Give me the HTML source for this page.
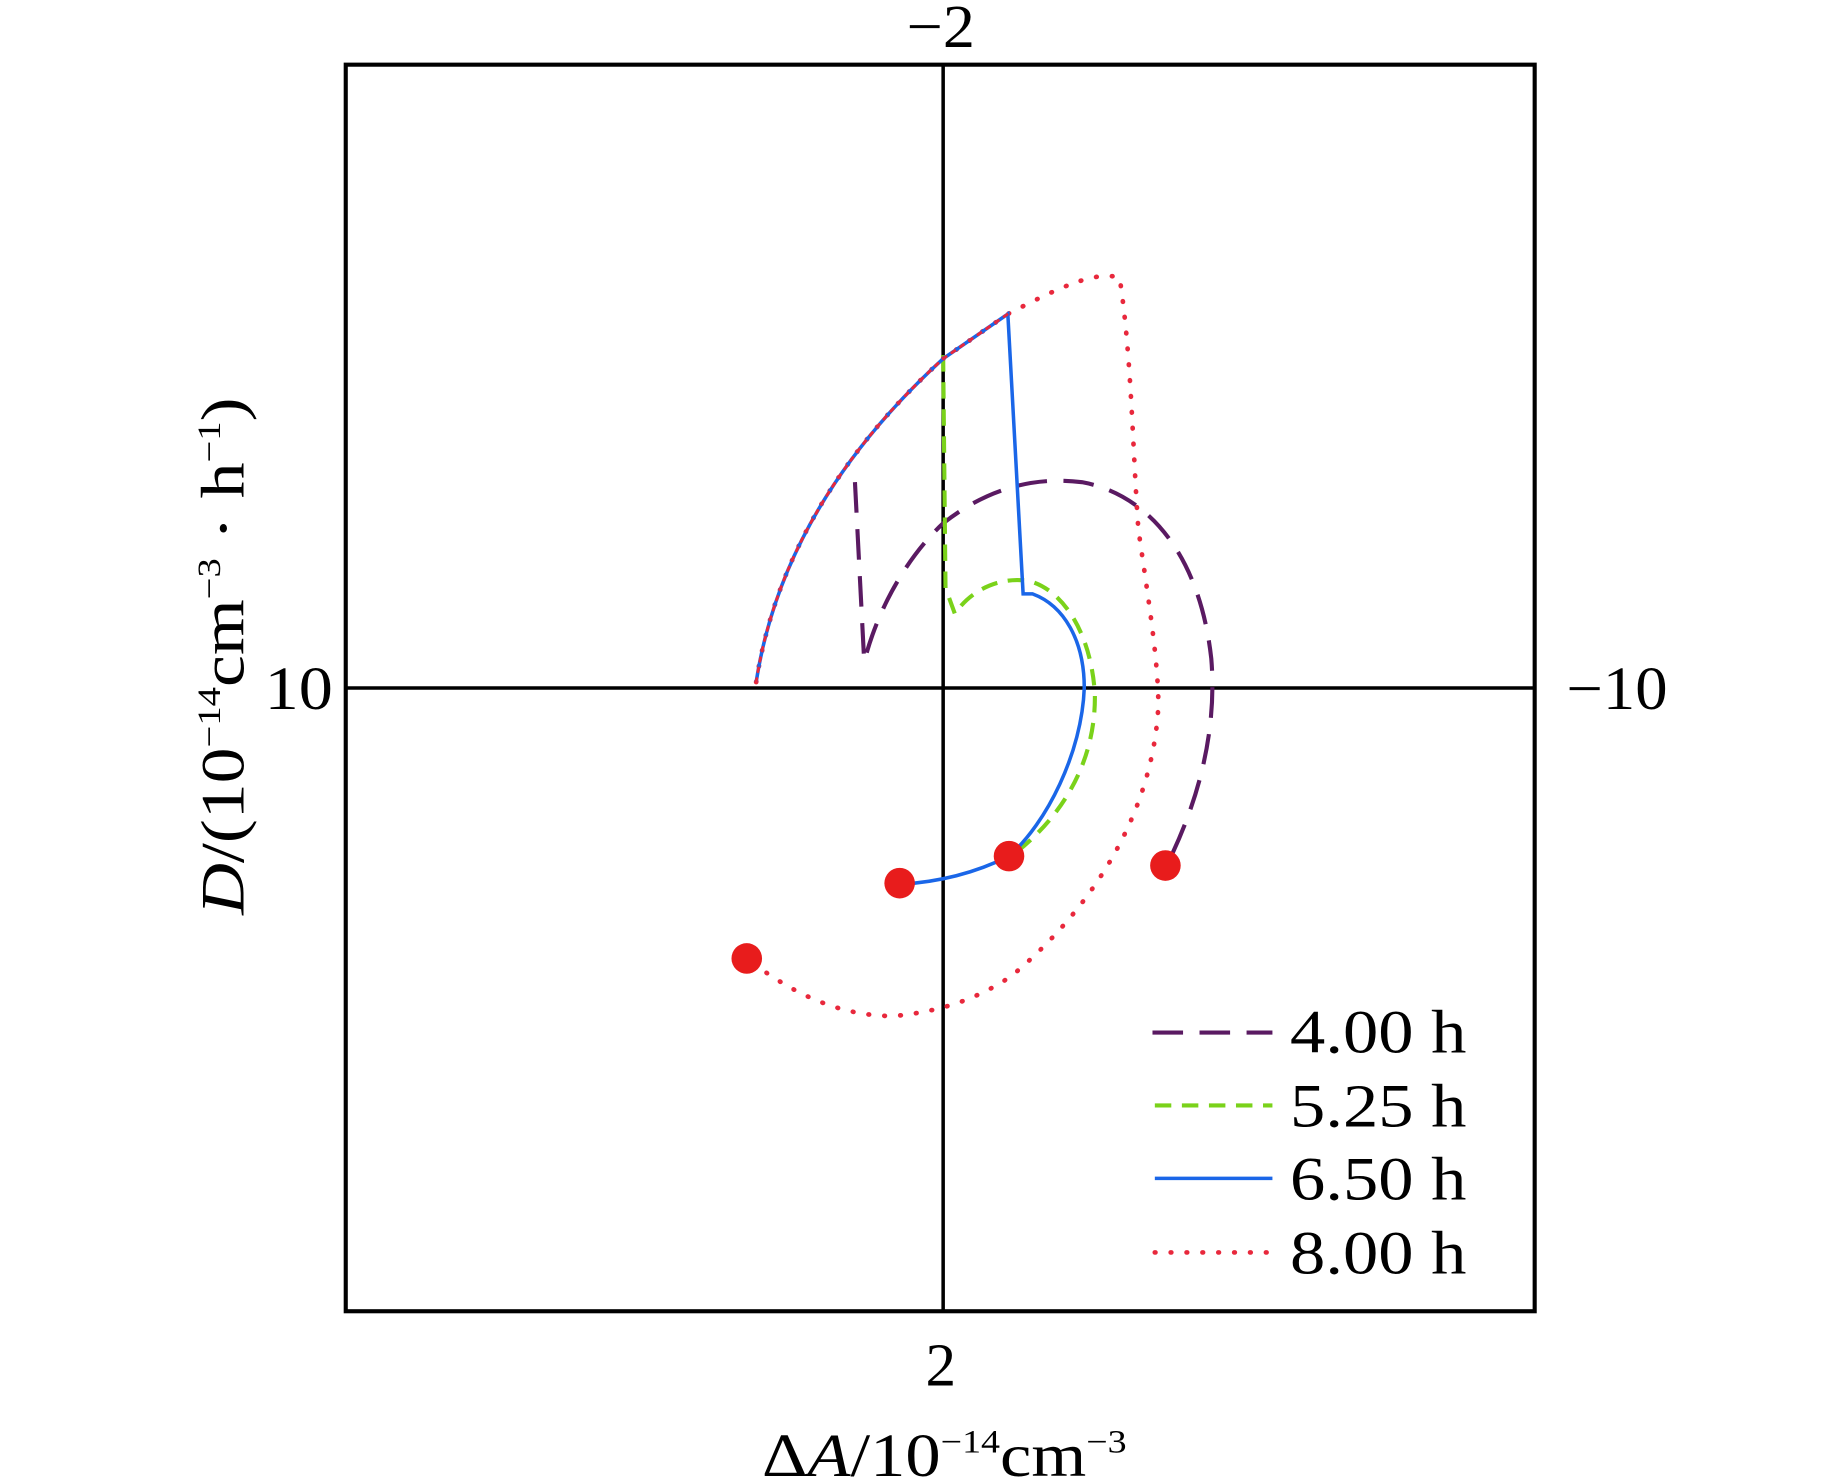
<!DOCTYPE html>
<html><head><meta charset="utf-8"><style>html,body{margin:0;padding:0;background:#fff}svg{display:block}</style></head>
<body>
<svg width="1843" height="1480" viewBox="0 0 1843 1480" xmlns="http://www.w3.org/2000/svg">
<g transform="scale(1.176)" font-family="'Liberation Serif', serif" fill="none">
<rect x="294" y="55" width="1011" height="1060" stroke="#000" stroke-width="3.5"/>
<line x1="802" y1="55" x2="802" y2="1115" stroke="#000" stroke-width="3"/>
<line x1="294" y1="585" x2="1305" y2="585" stroke="#000" stroke-width="3"/>
<!-- purple -->
<path d="M727,410 L735,565 M737,555 C750,510 775,470 802,445 C840,415 880,405 920,410 C975,420 1020,470 1030,560 C1035,620 1020,680 992,736" stroke="#5a1a62" stroke-width="3.5" stroke-dasharray="26,14"/>
<!-- green -->
<path d="M802,302 L804,500 L812,522 C825,502 850,490 875,494 C905,502 928,540 931,590 C932,640 910,690 860,728" stroke="#7ad21a" stroke-width="3.5" stroke-dasharray="14,9"/>
<!-- red dotted -->
<path d="M643,580 C660,470 720,380 802,305 L857,267 C900,245 930,230 952,236 C962,300 963,380 968,450 C975,500 985,560 985,600 C980,700 920,780 860,830 C830,850 800,860 760,864 C720,864 680,850 635,815" stroke="#e8283c" stroke-width="4" stroke-dasharray="0.5,13" stroke-linecap="round"/>
<!-- blue -->
<path d="M643,580 C660,470 720,380 802,305 L857,267 L870,505 L878,505 C905,515 922,545 922,585 C920,640 890,700 858,728 C830,742 800,750 765,752" stroke="#1a66e8" stroke-width="3"/>
<path d="M643,580 C660,470 720,380 802,305 L857,267" stroke="#e8283c" stroke-width="2.5" stroke-dasharray="3,6" stroke-linecap="round"/>
<g fill="#e81c1c"><circle cx="635" cy="815" r="13"/><circle cx="765" cy="751" r="13"/><circle cx="858" cy="728" r="13"/><circle cx="991" cy="736" r="13"/></g>
<!-- legend -->
<line x1="980" y1="878" x2="1082" y2="878" stroke="#5a1a62" stroke-width="3.5" stroke-dasharray="26,14"/>
<line x1="982" y1="940" x2="1082" y2="940" stroke="#7ad21a" stroke-width="3.5" stroke-dasharray="14,9"/>
<line x1="982" y1="1002" x2="1082" y2="1002" stroke="#1a66e8" stroke-width="3"/>
<line x1="982" y1="1065" x2="1082" y2="1065" stroke="#e8283c" stroke-width="4" stroke-dasharray="0.5,13" stroke-linecap="round"/>
<g fill="#000" font-size="52">
<text x="1097" y="895" textLength="150" lengthAdjust="spacingAndGlyphs">4.00 h</text>
<text x="1097" y="958" textLength="150" lengthAdjust="spacingAndGlyphs">5.25 h</text>
<text x="1097" y="1020" textLength="150" lengthAdjust="spacingAndGlyphs">6.50 h</text>
<text x="1097" y="1083" textLength="150" lengthAdjust="spacingAndGlyphs">8.00 h</text>
<text x="800" y="40" text-anchor="middle" textLength="58" lengthAdjust="spacingAndGlyphs">−2</text>
<text x="800" y="1178" text-anchor="middle">2</text>
<text x="225" y="603" textLength="58" lengthAdjust="spacingAndGlyphs">10</text>
<text x="1332" y="603" textLength="86" lengthAdjust="spacingAndGlyphs">−10</text>
<text x="648" y="1255" textLength="310" lengthAdjust="spacingAndGlyphs">Δ<tspan font-style="italic">A</tspan>/10<tspan font-size="28" dy="-20">−14</tspan><tspan dy="20">cm</tspan><tspan font-size="28" dy="-20">−3</tspan></text>
<text transform="translate(207,778) rotate(-90)" textLength="440" lengthAdjust="spacingAndGlyphs"><tspan font-style="italic">D</tspan>/(10<tspan font-size="28" dy="-20">−14</tspan><tspan dy="20">cm</tspan><tspan font-size="28" dy="-20">−3</tspan><tspan dy="20"> · h</tspan><tspan font-size="28" dy="-20">−1</tspan><tspan dy="20">)</tspan></text>
</g>
</g>
</svg>
</body></html>
